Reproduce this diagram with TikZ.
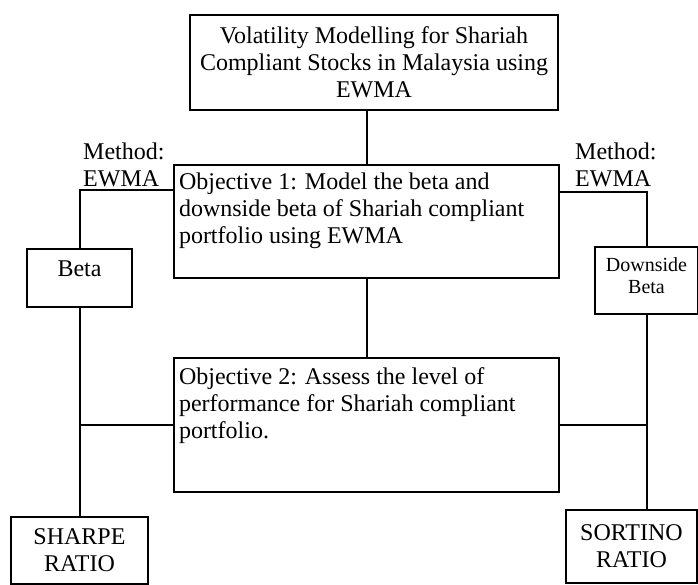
\documentclass[tikz,border=0pt]{standalone}
\usepackage{fontspec}
\setmainfont{Liberation Serif}
\begin{document}
\begin{tikzpicture}[x=1pt,y=-1pt,
  box/.style={draw, line width=2pt, inner sep=0pt, align=center},
  objbox/.style={draw, line width=2pt, anchor=north west, inner xsep=5pt, inner ysep=4pt},
  link/.style={line width=2pt},
  lbl/.style={inner sep=0pt, align=left, anchor=west},
  every node/.style={font=\fontsize{24}{27}\selectfont}]
\useasboundingbox (0,0) rectangle (698,585);
\node[box, minimum width=368pt, minimum height=95pt] (title) at (374,62.5)
  {Volatility Modelling for Shariah\\Compliant Stocks in Malaysia using\\EWMA};
\node[objbox] (obj1) at (173,164)
  {\parbox[c][105pt][t]{375pt}{\raggedright\rule{0pt}{21pt}Objective 1: Model the beta and\\downside beta of Shariah compliant\\portfolio using EWMA}};
\node[objbox] (obj2) at (173,357)
  {\parbox[c][126pt][t]{375pt}{\raggedright\rule{0pt}{22pt}Objective 2: Assess the level of\\performance for Shariah compliant\\portfolio.}};
\node[box, anchor=north west] (beta) at (26,248)
  {\parbox[c][58pt][t]{105pt}{\centering\rule{0pt}{27pt}Beta}};
\node[box, anchor=north west] (dbeta) at (594,246)
  {\parbox[c][67pt][t]{103pt}{\centering\fontsize{20}{22}\selectfont\rule{0pt}{24pt}Downside\\Beta}};
\node[box, minimum width=137pt, minimum height=67pt] (sharpe) at (79.5,550.5) {SHARPE\\RATIO};
\node[box, minimum width=131pt, minimum height=73pt] (sortino) at (631.5,546.5) {SORTINO\\RATIO};
\node[lbl] (m1) at (83,164.5) {Method:\\EWMA};
\node[lbl] (m2) at (575,164.5) {Method:\\EWMA};
\draw[link] (obj1.north) -- (obj1.north |- title.south);
\draw[link] (obj1.south) -- (obj2.north);
\draw[link] ([yshift=-26pt]obj1.north west) -| (beta.north);
\draw[link] ([yshift=-28pt]obj1.north east) -| (dbeta.north);
\draw[link] (beta.south) -- (beta.south |- sharpe.north);
\draw[link] (obj2.west) -- (obj2.west -| beta.south);
\draw[link] (dbeta.south) -- (dbeta.south |- sortino.north);
\draw[link] (obj2.east) -- (obj2.east -| dbeta.south);
\end{tikzpicture}
\end{document}
